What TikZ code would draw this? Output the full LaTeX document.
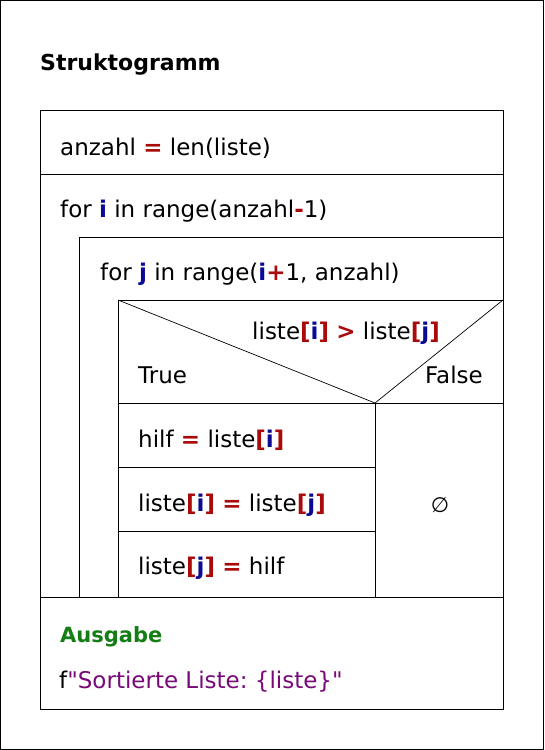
\documentclass[tikz,border=0pt]{standalone}
\usepackage{fontspec}
\setmainfont{DejaVu Sans}
\usetikzlibrary{positioning,calc}
\definecolor{opred}{RGB}{170,10,10}
\definecolor{varblue}{RGB}{10,10,150}
\definecolor{outgreen}{RGB}{20,125,20}
\definecolor{strpurple}{RGB}{120,10,120}
\newcommand{\opsym}[1]{\textcolor{opred}{\textbf{#1}}}
\newcommand{\varsym}[1]{\textcolor{varblue}{\textbf{#1}}}
\newcommand{\codefont}{\fontsize{23}{27}\selectfont}
\frenchspacing

\begin{document}
\begin{tikzpicture}[x=1pt,y=-1pt,
    code/.style={anchor=base west, inner sep=0pt, font=\codefont},
    head/.style={anchor=base west, inner sep=0pt, font=\fontsize{22}{26}\selectfont\bfseries},
    box/.style={line width=1pt},
    diag/.style={line width=0.7pt}]
    \useasboundingbox (0,0) rectangle (544,750);
    \path[draw,box] (0.5,0.5) rectangle (543.5,749.5);
    % corners of the struktogramm
    \coordinate (TL) at (40,110);
    \coordinate (BR) at (503,709);
    \coordinate (IL) at (79,237);
    \coordinate (JL) at (118,300);
    \coordinate (JR) at (503,300);
    \coordinate (V) at (375,403);
    \node[head] (title) at (40,70) {Struktogramm};
    \path[draw,box] (TL) rectangle (BR);
    \path[draw,box] (40,174) -- (503,174);
    \path[draw,box] (IL) -- (503,237);
    \path[draw,box] (IL) -- (79,597);
    \path[draw,box] (JL) -- (JR);
    \path[draw,box] (JL) -- (118,597);
    \path[draw,box] (118,403) -- (503,403);
    \path[draw,box] (V) -- (375,597);
    \path[draw,box] (118,467) -- (375,467);
    \path[draw,box] (118,531) -- (375,531);
    \path[draw,box] (40,597) -- (503,597);
    \path[draw,diag] (JL) -- (V) -- (JR);
    % texts
    \node[code] (anzahl) at (60,155) {anzahl \opsym{=} len(liste)};
    \node[code] (fori) at (60,217) {for \varsym{i} in range(anzahl\opsym{-}1)};
    \node[code] (forj) at (100,280) {for \varsym{j} in range(\varsym{i}\opsym{+}1, anzahl)};
    \node[code, anchor=base] (cond) at (346,339) {liste\opsym{[}\varsym{i}\opsym{]} \opsym{>} liste\opsym{[}\varsym{j}\opsym{]}};
    \node[code] (true) at (138,383) {True};
    \node[code, anchor=base east] (false) at (483,383) {False};
    \node[code] (hilf) at (138,447) {hilf \opsym{=} liste\opsym{[}\varsym{i}\opsym{]}};
    \node[code] (swap) at (138,511) {liste\opsym{[}\varsym{i}\opsym{]} \opsym{=} liste\opsym{[}\varsym{j}\opsym{]}};
    \node[code] (back) at (138,574) {liste\opsym{[}\varsym{j}\opsym{]} \opsym{=} hilf};
    \node[inner sep=0pt, font=\fontsize{21}{24}\selectfont] (leer) at (440,505) {∅};
    \node[head, font=\fontsize{21}{25}\selectfont\bfseries, text=outgreen] (ausgabe) at (60,642) {Ausgabe};
    \node[code] (print) at (59,688) {f\textcolor{strpurple}{\textquotedbl Sortierte Liste: \{liste\}\textquotedbl}};
\end{tikzpicture}
\end{document}
